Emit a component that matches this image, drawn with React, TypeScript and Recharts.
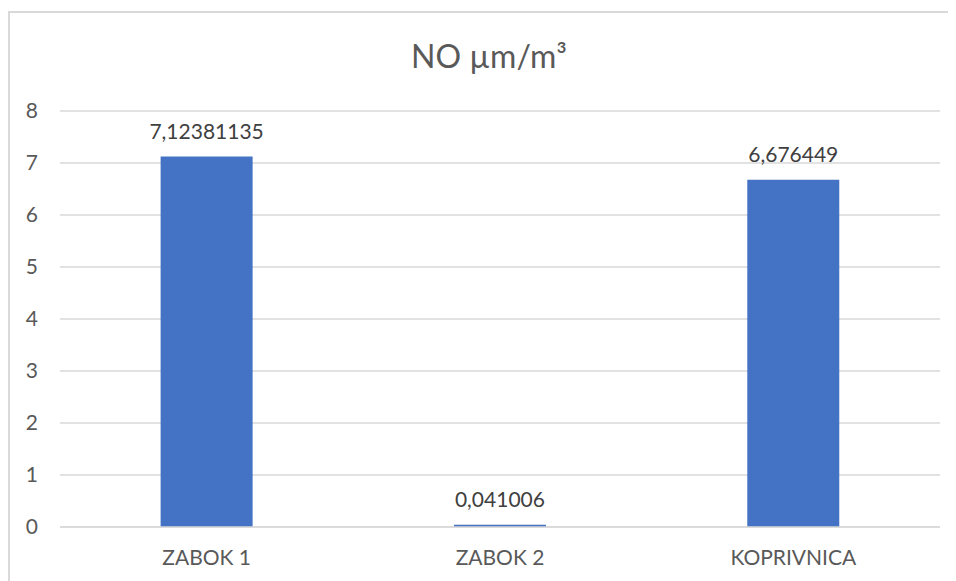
import { BarChart, Bar, XAxis, YAxis, CartesianGrid, LabelList } from 'recharts';

const categories = ['ZABOK 1', 'ZABOK 2', 'KOPRIVNICA'];
const noValues = [7.12381135, 0.041006, 6.676449];
const yTicks = [0, 1, 2, 3, 4, 5, 6, 7, 8];

const chartData = categories.map((name, i) => ({ name, value: noValues[i] }));

const FONT = 'Lato, "Open Sans", sans-serif';
const TEXT = '#595959';

export default function App() {
  return (
    <div
      style={{
        position: 'relative',
        marginTop: 3,
        width: 950,
        height: 580,
        border: '2px solid #d9d9d9',
        fontFamily: FONT,
        background: '#fff',
      }}
    >
      <div
        style={{
          position: 'absolute',
          left: 0,
          width: 958,
          top: 23,
          textAlign: 'center',
          fontSize: 32,
          color: TEXT,
        }}
      >
        NO µm/m³
      </div>
      <BarChart
        width={946}
        height={577}
        data={chartData}
        margin={{ top: 98, right: 16, left: 0, bottom: 0 }}
        barCategoryGap="34.3%"
      >
        <CartesianGrid vertical={false} stroke="#d9d9d9" strokeWidth={1.5} />
        <XAxis
          dataKey="name"
          axisLine={{ stroke: '#d9d9d9', strokeWidth: 1.5 }}
          tickLine={false}
          tickSize={0}
          tickMargin={23}
          height={63}
          tick={{ fill: TEXT, fontSize: 21, fontFamily: FONT }}
        />
        <YAxis
          domain={[0, 8]}
          ticks={yTicks}
          interval={0}
          axisLine={false}
          tickLine={false}
          tickSize={0}
          tickMargin={22}
          width={50}
          tick={{ fill: TEXT, fontSize: 21, fontFamily: FONT }}
        />
        <Bar dataKey="value" fill="#4472c4" isAnimationActive={false}>
          <LabelList
            dataKey="value"
            position="top"
            offset={18}
            formatter={(v: number) => String(v).replace('.', ',')}
            style={{ fill: '#404040', fontSize: 21, fontFamily: FONT }}
          />
        </Bar>
      </BarChart>
    </div>
  );
}
